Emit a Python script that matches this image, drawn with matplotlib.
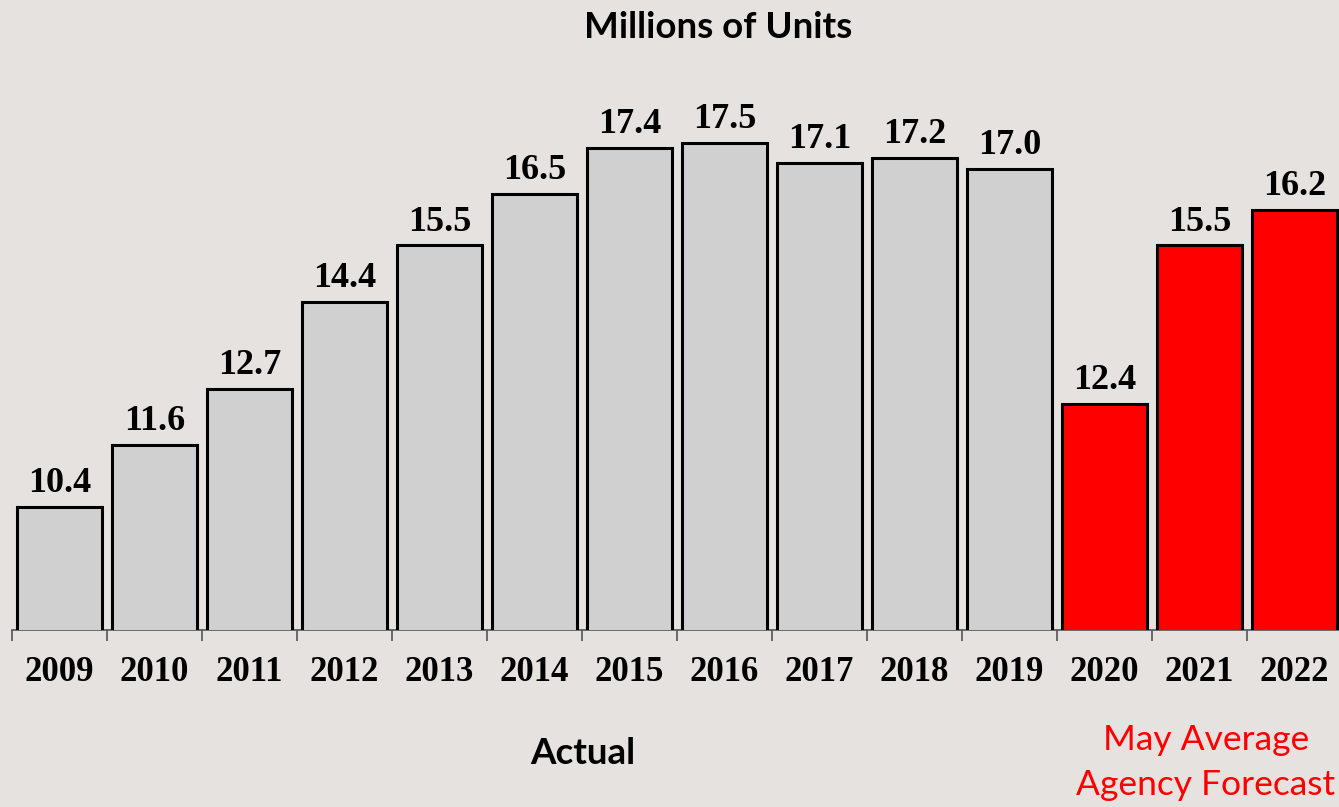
import matplotlib
matplotlib.use("Agg")
import matplotlib.pyplot as plt
import numpy as np

years = ["2009", "2010", "2011", "2012", "2013", "2014", "2015",
         "2016", "2017", "2018", "2019", "2020", "2021", "2022"]
units = [10.4, 11.6, 12.7, 14.4, 15.5, 16.5, 17.4,
         17.5, 17.1, 17.2, 17.0, 12.4, 15.5, 16.2]
is_forecast = [False] * 11 + [True] * 3

BG = "#e6e2df"
GRAY = "#d0d0d0"
RED = "#ff0000"

fig = plt.figure(figsize=(13.39, 8.07), dpi=100, facecolor=BG)
ax = fig.add_axes([12 / 1339, 177 / 807, 1330 / 1339, 564 / 807])
ax.set_facecolor(BG)

x = np.arange(len(years))
colors = [RED if f else GRAY for f in is_forecast]
bars = ax.bar(x, units, width=0.9, bottom=0, color=colors,
              edgecolor="black", linewidth=2.2, zorder=3)

for xi, v in zip(x, units):
    ax.annotate(f"{v:.1f}", (xi, v), xytext=(0, 5), textcoords="offset points",
                ha="center", va="bottom", fontsize=26, fontweight="bold",
                family="Liberation Serif", color="black")

ax.set_ylim(8, 19)
ax.set_xlim(-0.5, len(years) - 0.5)

for s in ["top", "right", "left"]:
    ax.spines[s].set_visible(False)
ax.spines["bottom"].set_color("#555555")
ax.spines["bottom"].set_linewidth(1.2)
ax.set_yticks([])

ax.set_xticks(x)
ax.set_xticklabels(years, fontsize=25, fontweight="bold", family="Liberation Serif")
ax.tick_params(axis="x", which="major", length=0, pad=19)
ax.set_xticks(np.arange(-0.5, len(years), 1.0), minor=True)
ax.tick_params(axis="x", which="minor", length=8, width=1.2, color="#555555")

fig.text(718 / 1339, 1 - 27 / 807, "Millions of Units", ha="center", va="center",
         fontsize=26.5, fontweight="bold", family="Lato")
fig.text(583 / 1339, 1 - 753 / 807, "Actual", ha="center", va="center",
         fontsize=26.5, fontweight="bold", family="Lato")
fig.text(1206 / 1339, 1 - 740 / 807, "May Average", ha="center", va="center",
         fontsize=25.5, family="Lato", color=RED)
fig.text(1206 / 1339, 1 - 785 / 807, "Agency Forecast", ha="center", va="center",
         fontsize=25.5, family="Lato", color=RED)

fig.savefig("out.png", dpi=100, facecolor=BG)
